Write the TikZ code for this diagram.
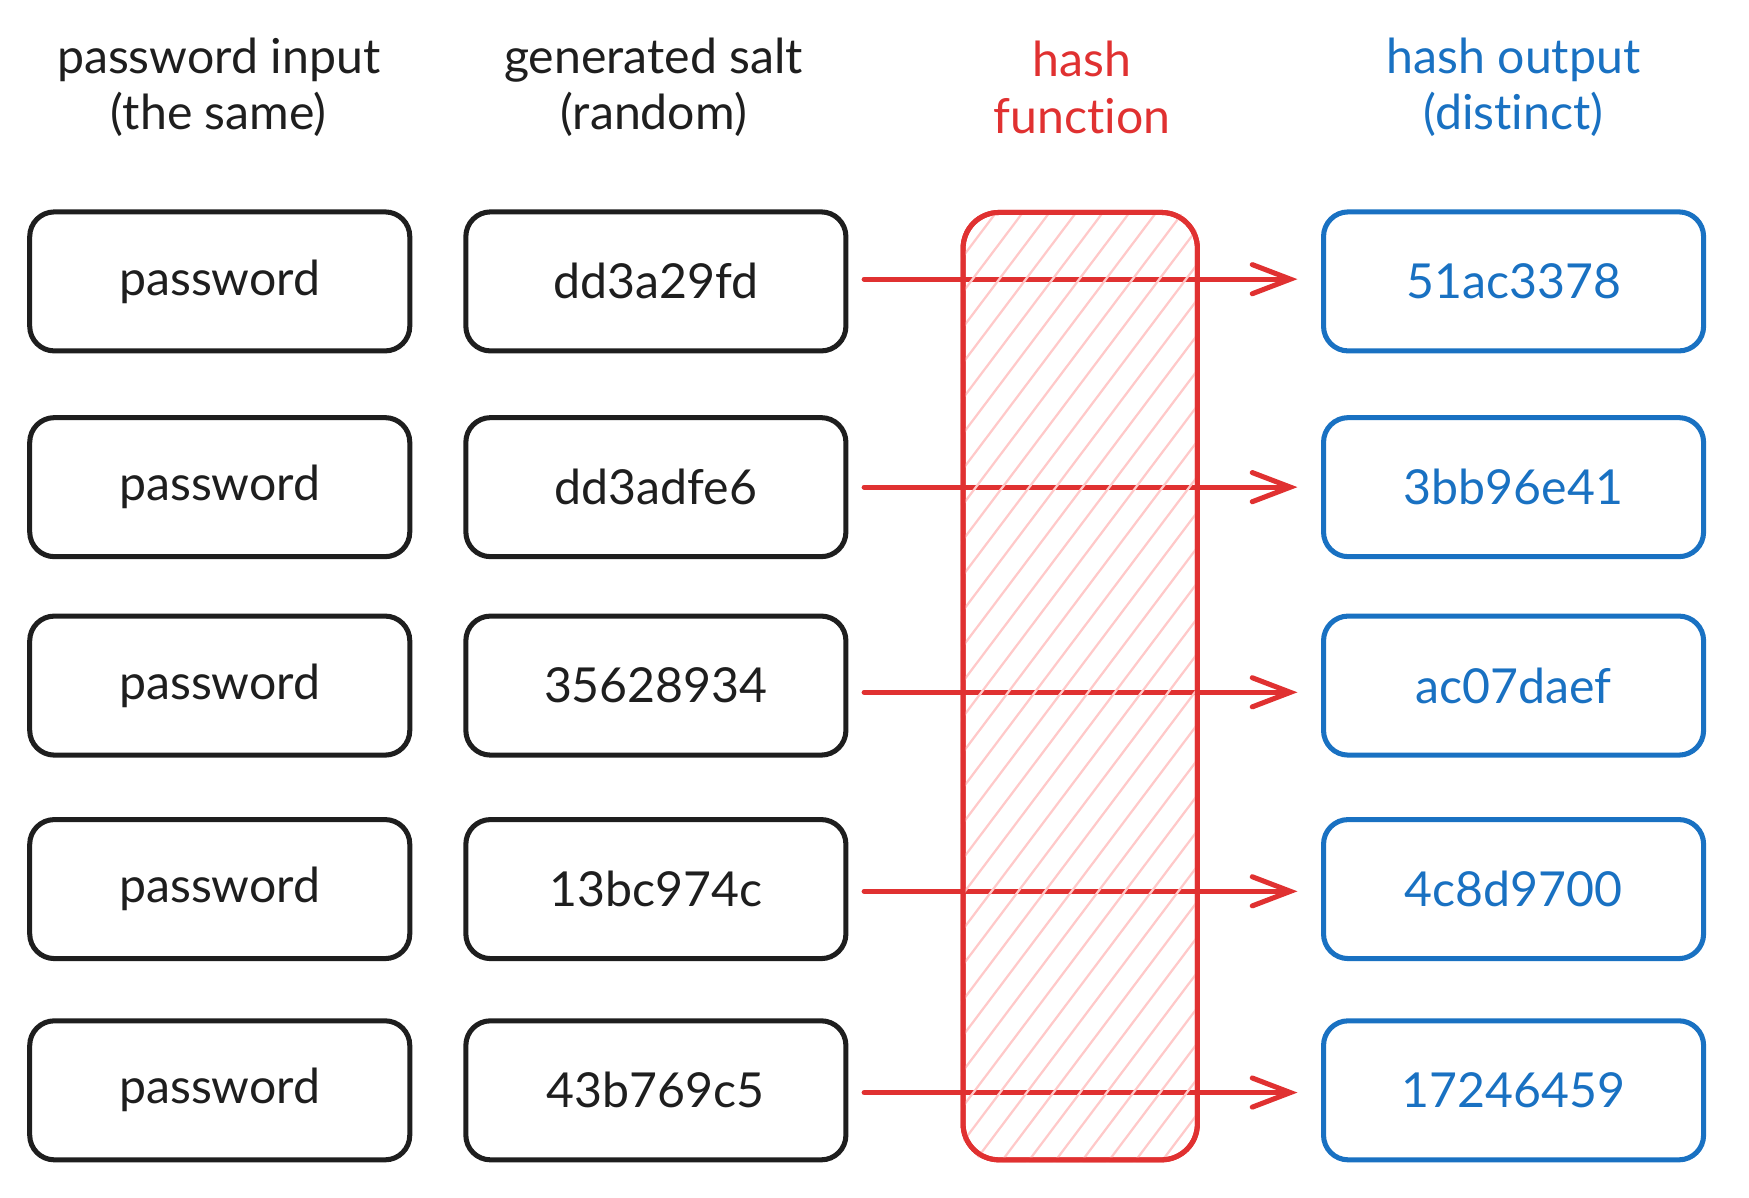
\documentclass[tikz,border=0pt]{standalone}
\usepackage{fontspec}
\setmainfont{Lato}[Ligatures=NoCommon]
\usetikzlibrary{arrows.meta}
\definecolor{inkblack}{HTML}{1E1E1E}
\definecolor{inkred}{HTML}{E03131}
\definecolor{inkblue}{HTML}{1971C2}
\definecolor{hatchred}{HTML}{FFC9C9}
\begin{document}
\begin{tikzpicture}[x=1pt,y=-1pt,
  txt/.style={font=\fontsize{43}{50}\selectfont},
  box/.style={txt, draw=inkblack, text=inkblack, line width=4.5pt, rounded corners=22pt,
    minimum width=339pt, minimum height=124pt, inner sep=0pt},
  outbox/.style={box, draw=inkblue, text=inkblue},
  head/.style={txt, align=center},
  hashbox/.style={draw=inkred, line width=4.5pt, rounded corners=32pt,
    minimum width=209pt, minimum height=845pt, inner sep=0pt},
  flow/.style={draw=inkred, line width=4.5pt, line cap=round, shorten <=14pt, shorten >=21pt,
    -{Straight Barb[length=34pt,width=26pt,line cap=round]}},
  hatch/.style={draw=hatchred, line width=2pt}
]
\useasboundingbox (0,0) rectangle (1560,1068);

% headers
\node[head, text=inkblack] (h1) at (195,78) {password input\\(the same)};
\node[head, text=inkblack] (h2) at (583,78) {generated salt\\(random)};
\node[head, text=inkred] (h3) at (965,78) {hash\\function};
\node[head, text=inkblue] (h4) at (1350,78) {hash output\\(distinct)};

% hash function column
\node[hashbox] (hf) at (963.5,612) {};

% rows
\foreach \r/\y/\d/\s/\o in {1/251/2/dd3a29fd/51ac3378, 2/434.5/0/dd3adfe6/3bb96e41,
    3/611.5/-6/35628934/ac07daef, 4/793/-2/13bc974c/4c8d9700, 5/972.5/-2/43b769c5/17246459} {
  \node[box] (p\r) at (196,\y) {password};
  \node[box] (s\r) at (585,\y) {\s};
  \node[outbox] (o\r) at (1350,\y) {\o};
  \draw[flow] ([yshift=\d pt]s\r.east) -- ([yshift=\d pt]o\r.west);
}

% hatching of the hash function column
\begin{scope}
  \clip[rounded corners=32pt] (hf.south west) rectangle (hf.north east);
  \foreach \x in {200,223.8,...,1100} {
    \draw[hatch] (\x,1040) -- ++(642,-852);
  }
\end{scope}
\node[hashbox] at (hf) {};
\end{tikzpicture}
\end{document}
